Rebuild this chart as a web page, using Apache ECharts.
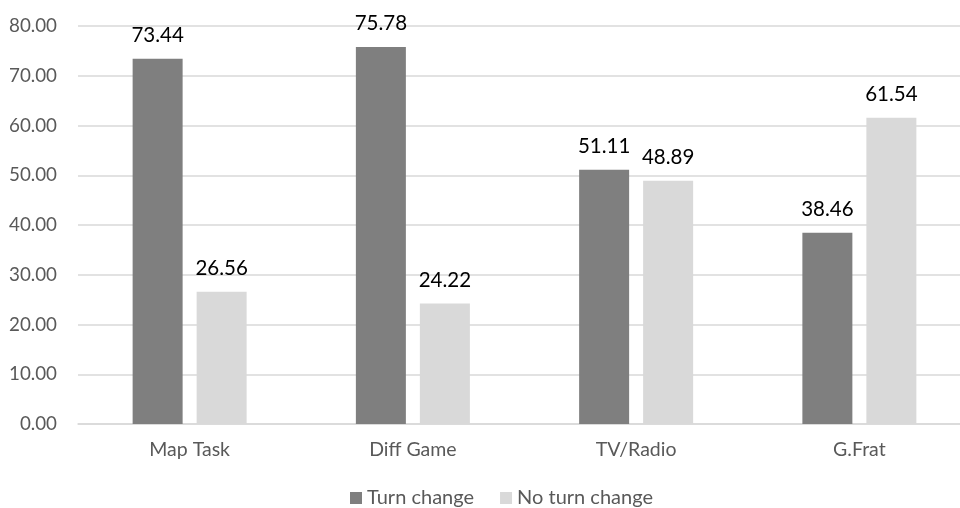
<!DOCTYPE html>
<html><head><meta charset="utf-8">
<script src="https://cdn.jsdelivr.net/npm/echarts@6/dist/echarts.min.js"></script>
<style>html,body{margin:0;padding:0;background:#fff}#c{width:960px;height:508px}</style>
</head><body><div id="c"></div>
<script>
const categories = ["Map Task", "Diff Game", "TV/Radio", "G.Frat"];
const turnChange = [73.44, 75.78, 51.11, 38.46];
const noTurnChange = [26.56, 24.22, 48.89, 61.54];
const seriesNames = ["Turn change", "No turn change"];
const yTicks = { min: 0, max: 80, interval: 10 };

const font = "Lato, 'Open Sans', sans-serif";
const chart = echarts.init(document.getElementById('c'), null, {renderer: 'canvas'});
const lbl = {
  show: true, position: 'top', distance: 13,
  color: '#000', fontSize: 20.5, fontFamily: font,
  formatter: p => p.value.toFixed(2)
};
chart.setOption({
  animation: false,
  grid: { left: 78, top: 26, width: 893, height: 398, containLabel: false, outerBoundsMode: 'none' },
  legend: {
    bottom: 0, left: 350, padding: 0, itemWidth: 12, itemHeight: 12, itemGap: 26,
    icon: 'rect',
    textStyle: { color: '#595959', fontSize: 20, fontFamily: font },
    data: seriesNames
  },
  xAxis: {
    type: 'category', data: categories,
    axisLine: { show: true, lineStyle: { color: '#d9d9d9', width: 1.5 } },
    axisTick: { show: false },
    axisLabel: { color: '#595959', fontSize: 19.5, fontFamily: font, margin: 16 }
  },
  yAxis: {
    type: 'value', min: yTicks.min, max: yTicks.max, interval: yTicks.interval,
    axisLine: { show: false }, axisTick: { show: false },
    splitLine: { lineStyle: { color: '#d9d9d9', width: 1.5 } },
    axisLabel: { color: '#595959', fontSize: 18.8, fontFamily: font, margin: 21,
      formatter: v => v.toFixed(2) }
  },
  series: [
    { name: seriesNames[0], type: 'bar', data: turnChange, barWidth: 50, barGap: '28%',
      itemStyle: { color: '#7f7f7f' }, label: lbl },
    { name: seriesNames[1], type: 'bar', data: noTurnChange, barWidth: 50,
      itemStyle: { color: '#d9d9d9' }, label: lbl }
  ]
});
</script></body></html>
